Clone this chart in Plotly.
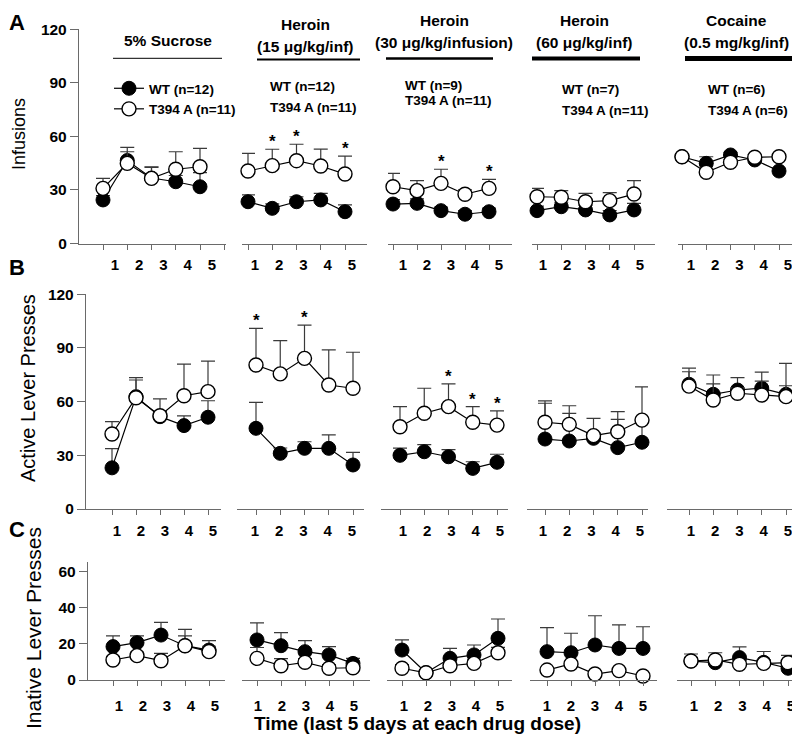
import plotly.graph_objects as go

# ---------------- data ----------------
days = [1, 2, 3, 4, 5]
condition_line1 = ["5% Sucrose", "Heroin", "Heroin", "Heroin", "Cocaine"]
condition_line2 = ["", "(15 μg/kg/inf)", "(30 μg/kg/infusion)", "(60 μg/kg/inf)", "(0.5 mg/kg/inf)"]
wt_n = [12, 12, 9, 7, 6]
t394a_n = [11, 11, 11, 11, 6]

# Infusions (panel A)
infusions_wt = [
    [24.4, 46.5, 36.7, 34.6, 31.8],
    [23.4, 19.7, 23.4, 24.4, 17.8],
    [22.1, 22.5, 18.4, 16.4, 17.8],
    [18.4, 20.6, 18.8, 16.0, 18.8],
    [48.6, 44.9, 49.6, 46.8, 40.6],
]
infusions_wt_sem = [
    [2.5, 4.9, 6.0, 3.5, 7.9],
    [3.8, 2.5, 2.8, 3.7, 3.8],
    [2.5, 2.5, 2.0, 2.0, 2.0],
    [2.5, 2.5, 2.5, 2.5, 3.7],
    [1.5, 3.7, 1.5, 1.5, 1.5],
]
infusions_t394a = [
    [30.9, 44.9, 36.5, 41.6, 43.0],
    [40.6, 43.6, 46.4, 43.4, 38.9],
    [31.8, 29.6, 33.7, 27.6, 30.9],
    [26.2, 25.9, 23.4, 24.0, 27.7],
    [48.6, 39.9, 45.5, 48.3, 48.6],
]
infusions_t394a_sem = [
    [5.6, 9.0, 6.5, 9.8, 10.3],
    [9.9, 9.2, 9.2, 9.5, 10.1],
    [7.5, 5.6, 7.9, 2.5, 5.0],
    [4.7, 3.7, 4.7, 4.5, 7.5],
    [1.5, 1.5, 1.5, 1.5, 1.5],
]

# Active lever presses (panel B)
active_wt = [
    [23.0, 62.8, 51.6, 46.6, 51.3],
    [45.1, 31.1, 33.9, 33.9, 24.6],
    [30.0, 32.0, 29.2, 22.7, 26.1],
    [39.1, 38.0, 39.5, 34.3, 37.3],
    [69.7, 64.1, 66.5, 67.5, 64.1],
]
active_wt_sem = [
    [10.8, 9.3, 3.0, 5.5, 9.2],
    [14.5, 3.0, 3.7, 7.5, 7.1],
    [4.0, 4.0, 4.0, 3.7, 4.5],
    [20.0, 15.5, 3.0, 15.8, 12.0],
    [9.0, 10.8, 6.9, 9.0, 4.8],
]
active_t394a = [
    [41.9, 62.2, 52.1, 63.3, 65.6],
    [80.5, 75.5, 84.2, 69.3, 67.5],
    [46.0, 53.5, 57.2, 48.5, 46.9],
    [48.5, 47.3, 41.0, 43.2, 49.7],
    [68.7, 60.9, 64.7, 63.7, 62.8],
]
active_t394a_sem = [
    [6.9, 11.2, 9.4, 17.7, 17.1],
    [20.5, 18.6, 18.6, 19.6, 20.1],
    [11.2, 14.0, 12.7, 8.7, 7.9],
    [11.9, 10.4, 9.7, 11.2, 18.6],
    [8.0, 9.0, 3.0, 7.8, 18.6],
]

# Inactive lever presses (panel C)
inactive_wt = [
    [18.5, 20.7, 24.9, 19.0, 16.6],
    [22.2, 19.0, 15.7, 13.9, 9.2],
    [16.6, 4.0, 12.0, 13.9, 23.1],
    [15.7, 15.1, 19.4, 17.5, 17.5],
    [10.5, 9.6, 12.4, 9.8, 6.5],
]
inactive_wt_sem = [
    [6.0, 3.8, 7.0, 5.5, 5.2],
    [9.5, 7.2, 6.1, 4.6, 2.8],
    [5.6, 1.0, 5.5, 5.5, 10.7],
    [13.3, 10.8, 16.2, 13.0, 12.0],
    [2.0, 2.0, 6.0, 6.0, 3.0],
]
inactive_t394a = [
    [11.1, 13.5, 10.7, 19.0, 15.7],
    [12.0, 7.9, 9.8, 6.5, 6.8],
    [6.5, 4.0, 7.9, 9.2, 15.1],
    [5.5, 8.9, 3.3, 5.2, 2.2],
    [10.5, 11.1, 8.7, 9.2, 9.6],
]
inactive_t394a_sem = [
    [2.0, 2.0, 4.0, 9.0, 3.0],
    [6.0, 4.0, 2.0, 2.0, 2.0],
    [2.0, 1.0, 2.0, 2.0, 3.0],
    [1.0, 1.0, 1.0, 1.0, 1.0],
    [3.9, 4.0, 2.0, 2.0, 4.0],
]

# significance marks (days with *) per condition
stars_infusions = [[], [2, 3, 5], [3, 5], [], []]
stars_active = [[], [1, 3], [3, 4, 5], [], []]
stars_inactive = [[], [], [], [], []]

# ---------------- layout geometry (pixels of the 800x747 page) ----------------
PAGE_W, PAGE_H = 800, 747
OFF = 8                      # default body margin of the html page
W, H = PAGE_W - OFF, PAGE_H - OFF
FONT = "Liberation Sans, Arial, sans-serif"
AX = "#6a6a6a"


def px(x):
    return (x - OFF) / W


def py(y):
    return 1 - (y - OFF) / H


panels = [
    dict(wt=infusions_wt, wt_sem=infusions_wt_sem, mu=infusions_t394a, mu_sem=infusions_t394a_sem,
         stars=stars_infusions, title="Infusions", title_xy=(19, 134), title_size=18,
         letter="A", letter_y=None, zero=243.5, top=29.3, ymax=120, yticks=[0, 30, 60, 90, 120],
         segs=[(79, 226, 103, 200), (242, 367, 248, 345), (388, 512, 393, 489),
               (532, 655, 537, 634), (678, 792, 682, 779)],
         shifts=[12, 7, 10, 6, 9], standoff=2),
    dict(wt=active_wt, wt_sem=active_wt_sem, mu=active_t394a, mu_sem=active_t394a_sem,
         stars=stars_active, title="Active Lever Presses", title_xy=(28, 388), title_size=20,
         letter="B", letter_y=267, zero=509, top=294.3, ymax=120, yticks=[0, 30, 60, 90, 120],
         segs=[(86, 221, 112, 208), (237, 364, 256, 353), (381, 508, 400, 497),
               (527, 648, 545, 642), (667, 797, 689, 786)],
         shifts=[5, -1, 3, -2, 2], standoff=3),
    dict(wt=inactive_wt, wt_sem=inactive_wt_sem, mu=inactive_t394a, mu_sem=inactive_t394a_sem,
         stars=stars_inactive, title="Inative Lever Presses", title_xy=(33, 628), title_size=21,
         letter="C", letter_y=529, zero=680, top=561.8, ymax=65.5, yticks=[0, 20, 40, 60],
         segs=[(88, 225, 113, 209), (242, 370, 257, 353), (387, 512, 402, 498),
               (530, 657, 547, 643), (677, 798, 691, 788)],
         shifts=[6, 1, 2, 0, 3], standoff=7),
]

fig = go.Figure()
layout = dict(
    width=W, height=H, autosize=False, template="none",
    margin=dict(l=0, r=0, t=0, b=0, pad=0),
    paper_bgcolor="white", plot_bgcolor="rgba(0,0,0,0)",
    font=dict(family=FONT, color="black"),
    showlegend=True,
    legend=dict(x=px(109), y=py(73), xanchor="left", yanchor="top",
                font=dict(family=FONT, size=13.5, weight="bold", color="black"),
                bgcolor="rgba(0,0,0,0)", tracegroupgap=0, itemwidth=30,
                traceorder="normal"),
)
annotations = []
shapes = []

tick_font = dict(family=FONT, size=15, weight="bold", color="black")

for r, p in enumerate(panels):
    yname = "y" if r == 0 else f"y{r + 1}"
    ykey = "yaxis" if r == 0 else f"yaxis{r + 1}"
    first_x = r * 5 + 1
    layout[ykey] = dict(
        domain=[py(p["zero"]), py(p["top"])], range=[0, p["ymax"]],
        anchor="x" if first_x == 1 else f"x{first_x}",
        showline=True, linecolor=AX, linewidth=1.3, ticks="outside", ticklen=8,
        tickwidth=1.2, tickcolor=AX, tickvals=p["yticks"], tickfont=dict(tick_font, size=15.5),
        showgrid=False, zeroline=False, automargin=False, fixedrange=True,
    )
    for s, (L, R, t1, t5) in enumerate(p["segs"]):
        k = r * 5 + s + 1
        xname = "x" if k == 1 else f"x{k}"
        xkey = "xaxis" if k == 1 else f"xaxis{k}"
        sp = (t5 - t1) / 4.0
        a = 1 - (t1 - L) / sp
        b = 5 + (R - t5) / sp
        if r == 0 and s == 0:
            tv = [0] + days + [6]
            tt = [""] + [str(d) for d in days] + [""]
        else:
            tv = days
            tt = [str(d) for d in days]
        layout[xkey] = dict(
            domain=[px(L), min(px(R), 1.0)], range=[a, b], anchor=yname,
            showline=True, linecolor=AX, linewidth=1.3, ticks="outside", ticklen=5,
            tickwidth=1.2, tickcolor=AX, tickvals=tv, ticktext=tt, tickfont=tick_font,
            ticklabelshift=p["shifts"][s], ticklabelstandoff=p["standoff"],
            showgrid=False, zeroline=False, automargin=False, fixedrange=True,
        )
        show = (r == 0 and s == 0)
        fig.add_trace(go.Scatter(
            x=days, y=p["wt"][s], xaxis=xname, yaxis=yname, mode="lines+markers",
            name=f"WT (n={wt_n[0]})", showlegend=show, cliponaxis=False,
            line=dict(color="black", width=1.2),
            marker=dict(symbol="circle", size=14, color="black", line=dict(color="black", width=1)),
            error_y=dict(type="data", symmetric=False, array=p["wt_sem"][s], arrayminus=[0] * 5,
                         color="#3a3a3a", thickness=1.2, width=7),
        ))
        fig.add_trace(go.Scatter(
            x=days, y=p["mu"][s], xaxis=xname, yaxis=yname, mode="lines+markers",
            name=f"T394 A (n={t394a_n[0]})", showlegend=show, cliponaxis=False,
            line=dict(color="black", width=1.2),
            marker=dict(symbol="circle", size=14, color="white", line=dict(color="black", width=1.4)),
            error_y=dict(type="data", symmetric=False, array=p["mu_sem"][s], arrayminus=[0] * 5,
                         color="#3a3a3a", thickness=1.2, width=7),
        ))
        for d in p["stars"][s]:
            i = days.index(d)
            annotations.append(dict(
                x=d, y=p["mu"][s][i] + p["mu_sem"][s][i], xref=xname, yref=yname,
                text="*", showarrow=False, yanchor="bottom", yshift=-4,
                font=dict(family=FONT, size=17, weight="bold", color="black"),
            ))
    # y title
    tx, ty = p["title_xy"]
    annotations.append(dict(x=px(tx), y=py(ty), xref="paper", yref="paper", text=p["title"],
                            textangle=-90, showarrow=False, xanchor="center", yanchor="middle",
                            font=dict(family=FONT, size=p["title_size"], color="black")))
    letter_font = dict(family=FONT, size=22, weight="bold", color="black")
    if p["letter_y"] is None:
        annotations.append(dict(x=0, y=1, xref="paper", yref="paper", text=p["letter"],
                                showarrow=False, xanchor="left", yanchor="top", xshift=-1,
                                font=letter_font))
    else:
        annotations.append(dict(x=0, y=py(p["letter_y"]), xref="paper", yref="paper",
                                text=p["letter"], showarrow=False, xanchor="left",
                                yanchor="middle", xshift=-1, font=letter_font))

# condition headers
hdr_font = dict(family=FONT, size=15.5, weight="bold", color="black")
hdr_pos = [(168, 40, None), (305, 25, 47), (444, 21, 43), (584, 21, 43), (736, 21, 43)]
hdr_lines = [(113, 222, 58.3, 1.0), (257, 360, 59.5, 1.8), (386, 493, 58.5, 2.7),
             (532, 640, 58.5, 4.0), (685, 797, 58.5, 5.0)]
for s in range(5):
    cx, y1, y2 = hdr_pos[s]
    annotations.append(dict(x=px(cx), y=py(y1), xref="paper", yref="paper",
                            text=condition_line1[s], showarrow=False, xanchor="center",
                            yanchor="middle", font=hdr_font))
    if condition_line2[s]:
        annotations.append(dict(x=px(cx), y=py(y2), xref="paper", yref="paper",
                                text=condition_line2[s], showarrow=False, xanchor="center",
                                yanchor="middle", font=hdr_font))
    x0, x1, yl, lw = hdr_lines[s]
    shapes.append(dict(type="line", xref="paper", yref="paper", x0=px(x0), x1=min(px(x1), 1.0),
                       y0=py(yl), y1=py(yl), line=dict(color="black", width=lw)))

# group size labels for the drug conditions
n_pos = [None, (268, 87, 107), (403, 85, 100), (560, 89, 110), (706, 89, 110)]
n_font = dict(family=FONT, size=13.5, weight="bold", color="black")
for s in range(1, 5):
    nx, ny1, ny2 = n_pos[s]
    annotations.append(dict(x=px(nx), y=py(ny1), xref="paper", yref="paper",
                            text=f"WT (n={wt_n[s]})", showarrow=False, xanchor="left",
                            yanchor="middle", font=n_font))
    annotations.append(dict(x=px(nx), y=py(ny2), xref="paper", yref="paper",
                            text=f"T394 A (n={t394a_n[s]})", showarrow=False, xanchor="left",
                            yanchor="middle", font=n_font))

# x title
annotations.append(dict(x=px(418), y=py(723), xref="paper", yref="paper",
                        text="Time (last 5 days at each drug dose)", showarrow=False,
                        xanchor="center", yanchor="middle",
                        font=dict(family=FONT, size=19, weight="bold", color="black")))

layout["annotations"] = annotations
layout["shapes"] = shapes
fig.update_layout(**layout)
fig.write_html("out.html")
